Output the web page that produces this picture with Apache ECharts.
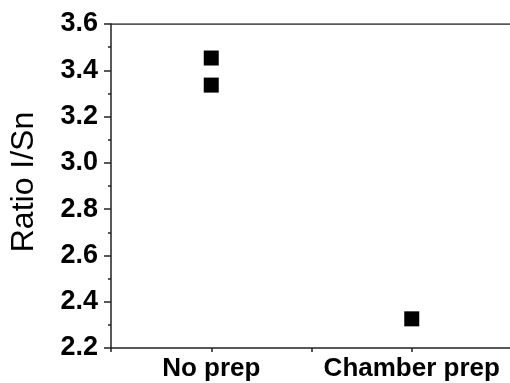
<!DOCTYPE html>
<html><head><meta charset="utf-8">
<script src="https://cdn.jsdelivr.net/npm/echarts@6/dist/echarts.min.js"></script>
<style>html,body{margin:0;padding:0;background:#fff}#c{width:510px;height:383px}</style>
</head><body><div id="c"></div>
<script>
const categories = ["No prep", "Chamber prep"];
const categoryIndex = [1, 1, 2];
const ratioValues = [3.453, 3.336, 2.326];
const yTicks = [2.2, 2.4, 2.6, 2.8, 3.0, 3.2, 3.4, 3.6];

const chart = echarts.init(document.getElementById('c'), null, {renderer: 'canvas'});
const font = '"Liberation Sans", Arial, sans-serif';
chart.setOption({
  animation: false,
  grid: {left: 111, top: 24, right: -2, bottom: 35, containLabel: false, outerBoundsMode: 'none'},
  xAxis: {
    type: 'value', min: 0.5, max: 2.5, interval: 0.5,
    axisLine: {show: true, lineStyle: {color: '#222', width: 1.5}},
    axisTick: {show: true, inside: false, length: 4, lineStyle: {color: '#222', width: 1.5}},
    splitLine: {show: false},
    axisLabel: {
      show: true, margin: 8, color: '#000', fontFamily: font, fontWeight: 'bold', fontSize: 26,
      showMinLabel: true, showMaxLabel: false,
      formatter: v => (Math.abs(v - Math.round(v)) < 1e-6 && v >= 1 && v <= categories.length) ? categories[Math.round(v) - 1] : ''
    }
  },
  yAxis: {
    type: 'value', min: 2.2, max: 3.6, interval: 0.2,
    name: 'Ratio I/Sn', nameLocation: 'middle', nameGap: 71, nameRotate: 90,
    nameTextStyle: {color: '#000', fontFamily: font, fontSize: 32, padding: [0, 0, 0, 8]},
    axisLine: {show: true, lineStyle: {color: '#222', width: 1.5}},
    axisTick: {show: true, inside: false, length: 7, lineStyle: {color: '#222', width: 1.5}},
    minorTick: {show: true, splitNumber: 2, length: 3, lineStyle: {color: '#222', width: 1.5}},
    splitLine: {show: false},
    axisLabel: {
      margin: 13, color: '#000', fontFamily: font, fontWeight: 'bold', fontSize: 27,
      formatter: v => { const t = yTicks.find(x => Math.abs(x - v) < 1e-6); return t !== undefined ? t.toFixed(1) : ''; }
    }
  },
  series: [{
    type: 'scatter',
    symbol: 'rect', symbolSize: 15,
    itemStyle: {color: '#000', opacity: 1},
    data: ratioValues.map((v, i) => [categoryIndex[i], v])
  }, {
    type: 'line', silent: true, symbol: 'none',
    lineStyle: {color: '#222', width: 1.5},
    data: [[0.5, 3.6], [2.5, 3.6]]
  }]
});
</script></body></html>
